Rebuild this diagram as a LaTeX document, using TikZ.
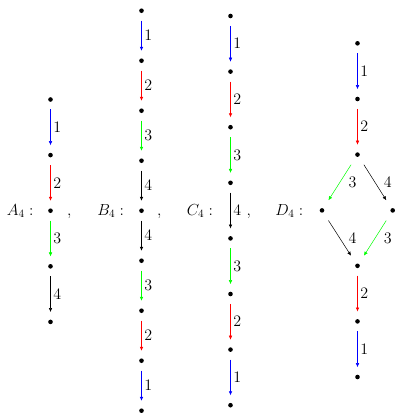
\documentclass[tikz,border=0pt]{standalone}
\usepackage{fix-cm}
\usepackage{amsmath}
\usepackage{xcolor}
\usepackage{tikz}
\usetikzlibrary{arrows.meta,positioning}

\begin{document}
\begin{tikzpicture}[
    x=1pt, y=-1pt,
    font=\fontsize{16pt}{19pt}\selectfont,
    dot/.style={
        circle,
        fill=black,
        inner sep=0pt,
        minimum size=4.6pt
    },
    link/.style={
        -{Latex[length=4pt,width=3.6pt]},
        line width=0.5pt,
        shorten <=7.4pt,
        shorten >=7.4pt
    },
    diag/.style={
        link,
        shorten <=9.5pt,
        shorten >=9.5pt
    },
    lab/.style={
        midway,
        right,
        inner sep=2.6pt,
        text=black
    },
    dlab/.style={
        lab,
        xshift=6pt
    },
    tag/.style={
        anchor=base east,
        inner sep=0pt
    },
    punct/.style={
        anchor=base west,
        inner sep=0pt
    }
]

\useasboundingbox (0,0) rectangle (396,413);

% A_4 chain
\node[dot] (a1) at (50.5,99.5) {};
\node[dot] (a2) at (50.5,155.1) {};
\node[dot] (a3) at (50.5,210.7) {};
\node[dot] (a4) at (50.5,266.3) {};
\node[dot] (a5) at (50.5,321.9) {};

\node[tag] (tagA) at (33.6,215.3) {$A_4:$};
\node[punct] (commaA) at (67,215.3) {$,$};

\draw[link, blue] (a1) -- (a2) node[lab] {$1$};
\draw[link, red] (a2) -- (a3) node[lab] {$2$};
\draw[link, green] (a3) -- (a4) node[lab] {$3$};
\draw[link, black] (a4) -- (a5) node[lab] {$4$};

% B_4 chain
\node[dot] (b1) at (141.5,10.7) {};
\node[dot] (b2) at (141.5,60.7) {};
\node[dot] (b3) at (141.5,110.7) {};
\node[dot] (b4) at (141.5,160.7) {};
\node[dot] (b5) at (141.5,210.7) {};
\node[dot] (b6) at (141.5,260.7) {};
\node[dot] (b7) at (141.5,310.7) {};
\node[dot] (b8) at (141.5,360.7) {};
\node[dot] (b9) at (141.5,410.7) {};

\node[tag] (tagB) at (124.3,215.3) {$B_4:$};
\node[punct] (commaB) at (157,215.3) {$,$};

\draw[link, blue] (b1) -- (b2) node[lab] {$1$};
\draw[link, red] (b2) -- (b3) node[lab] {$2$};
\draw[link, green] (b3) -- (b4) node[lab] {$3$};
\draw[link, black] (b4) -- (b5) node[lab] {$4$};
\draw[link, black] (b5) -- (b6) node[lab] {$4$};
\draw[link, green] (b6) -- (b7) node[lab] {$3$};
\draw[link, red] (b7) -- (b8) node[lab] {$2$};
\draw[link, blue] (b8) -- (b9) node[lab] {$1$};

% C_4 chain
\node[dot] (c1) at (230.5,16) {};
\node[dot] (c2) at (230.5,71.6) {};
\node[dot] (c3) at (230.5,127.2) {};
\node[dot] (c4) at (230.5,182.8) {};
\node[dot] (c5) at (230.5,238.4) {};
\node[dot] (c6) at (230.5,294) {};
\node[dot] (c7) at (230.5,349.6) {};
\node[dot] (c8) at (230.5,405.2) {};

\node[tag] (tagC) at (213.3,215.3) {$C_4:$};
\node[punct] (commaC) at (246.5,215.3) {$,$};

\draw[link, blue] (c1) -- (c2) node[lab] {$1$};
\draw[link, red] (c2) -- (c3) node[lab] {$2$};
\draw[link, green] (c3) -- (c4) node[lab] {$3$};
\draw[link, black] (c4) -- (c5) node[lab] {$4$};
\draw[link, green] (c5) -- (c6) node[lab] {$3$};
\draw[link, red] (c6) -- (c7) node[lab] {$2$};
\draw[link, blue] (c7) -- (c8) node[lab] {$1$};

% D_4 graph with its diamond
\node[dot] (d1) at (357.5,43.3) {};
\node[dot] (d2) at (357.5,99) {};
\node[dot] (d3) at (357.5,154.6) {};
\node[dot] (dl) at (322,210.4) {};
\node[dot] (dr) at (392.7,210.4) {};
\node[dot] (d4) at (357.5,265.8) {};
\node[dot] (d5) at (357.5,321.4) {};
\node[dot] (d6) at (357.5,377) {};

\node[tag] (tagD) at (303.5,215.3) {$D_4:$};

\draw[link, blue] (d1) -- (d2) node[lab] {$1$};
\draw[link, red] (d2) -- (d3) node[lab] {$2$};
\draw[diag, green] (d3) -- (dl) node[dlab] {$3$};
\draw[diag, black] (d3) -- (dr) node[dlab] {$4$};
\draw[diag, black] (dl) -- (d4) node[dlab] {$4$};
\draw[diag, green] (dr) -- (d4) node[dlab] {$3$};
\draw[link, red] (d4) -- (d5) node[lab] {$2$};
\draw[link, blue] (d5) -- (d6) node[lab] {$1$};

\end{tikzpicture}
\end{document}
